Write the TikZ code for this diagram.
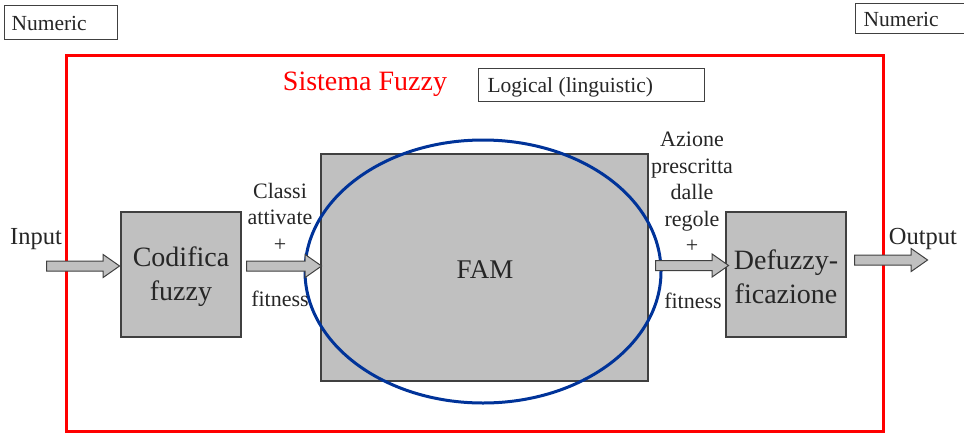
\documentclass[tikz,border=0pt]{standalone}
\usepackage{fontspec}
\setmainfont{Liberation Serif}
\newfontfamily\tnr{Liberation Serif}
\usetikzlibrary{shapes.arrows,shapes.geometric}
\definecolor{boxgray}{HTML}{C0C0C0}
\definecolor{edgegray}{HTML}{404040}
\definecolor{famblue}{HTML}{003399}
\begin{document}
\begin{tikzpicture}[x=1pt,y=-1pt,
  every node/.append style={text=black!85},
  labelbox/.style={draw=edgegray,line width=1.2pt,fill=white,inner sep=0,anchor=north west},
  lbl/.style={font=\tnr\fontsize{21.5}{26}\selectfont,anchor=west},
  blockbox/.style={draw=edgegray,line width=1.2pt,fill=boxgray,inner sep=0},
  bigtext/.style={font=\tnr\fontsize{28}{34}\selectfont,align=center},
  smalltext/.style={font=\tnr\fontsize{22}{26.5}\selectfont,align=center,inner sep=0},
  fatarrow/.style={single arrow,draw=edgegray,line width=1pt,fill=boxgray,inner xsep=0,inner ysep=4.5,
    minimum height=73,minimum width=23,single arrow head extend=6.5,single arrow tip angle=70,single arrow head indent=0}
]
\useasboundingbox (0,0) rectangle (964,432);
% outer red frame
\draw[red,line width=3pt] (66,55) rectangle (883,431);
% numeric boxes
\node[labelbox,minimum width=113,minimum height=34] (numL) at (4,5) {};
\node[lbl] (numLt) at (8,23) {Numeric};
\node[labelbox,minimum width=115,minimum height=30] (numR) at (855,3) {};
\node[lbl] (numRt) at (860,19) {Numeric};
% title
\node[text=red,font=\tnr\fontsize{28}{34}\selectfont] (title) at (365,84) {Sistema Fuzzy};
\node[labelbox,minimum width=226,minimum height=33] (logic) at (478,68) {};
\node[lbl] (logict) at (484,87) {Logical (linguistic)};
% blocks
\node[blockbox,minimum width=120,minimum height=125] (cod) at (181,274.5) {};
\node[bigtext] (codt) at (181,277) {Codifica\\fuzzy};
\node[blockbox,minimum width=327,minimum height=227] (fam) at (484.5,267.5) {};
\node[font=\tnr\fontsize{27}{32}\selectfont] (famt) at (485,270) {FAM};
\node[blockbox,minimum width=120,minimum height=125] (def) at (786,274.5) {};
\node[bigtext] (deft) at (786,277) {Defuzzy-\\ficazione};
% ellipse
\draw[famblue,line width=3pt] (483,271.5) ellipse (178 and 131.5);
% arrows
\node[fatarrow] (a1) at (79.5,266) {};
\node[fatarrow,minimum height=75] (a2) at (280.5,266) {};
\node[fatarrow] (a3) at (688.5,265.5) {};
\node[fatarrow] (a4) at (887.5,260) {};
% labels
\node[font=\tnr\fontsize{24.5}{30}\selectfont] (inp) at (36,239) {Input};
\node[font=\tnr\fontsize{24.5}{30}\selectfont] (outp) at (923,239) {Output};
\node[smalltext] (cls) at (280,217) {Classi\\attivate\\+};
\node[smalltext] (fit1) at (280,299) {fitness};
\node[smalltext] (az) at (692,192.5) {Azione\\prescritta\\dalle\\regole\\+};
\node[smalltext] (fit2) at (693,301) {fitness};
\end{tikzpicture}
\end{document}
